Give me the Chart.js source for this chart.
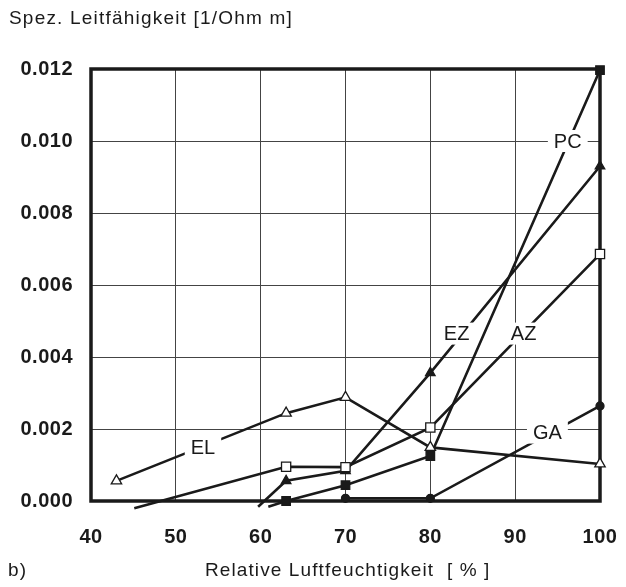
<!DOCTYPE html>
<html>
<head>
<meta charset="utf-8">
<script src="https://cdn.jsdelivr.net/npm/chart.js@4.4.1/dist/chart.umd.min.js"></script>
<style>
  html, body { margin: 0; padding: 0; background: #ffffff; }
  #wrap { width: 626px; height: 587px; }
</style>
</head>
<body>
<div id="wrap"><canvas id="chart" width="626" height="587"></canvas></div>
<script>
// === Spez. Leitfähigkeit vs. relative Luftfeuchtigkeit ===

// x ticks (% r.F.)
const X_TICKS = [40, 50, 60, 70, 80, 90, 100];
const Y_TICKS = [0.0, 0.002, 0.004, 0.006, 0.008, 0.01, 0.012];

// measured series (first point of AZ / EZ / PC = extension below zero, no marker)
const EL_X = [43, 63, 70, 80, 100];
const EL_Y = [0.00056, 0.00244, 0.00288, 0.00149, 0.00103];

const AZ_X = [45.1, 63, 70, 80, 100];
const AZ_Y = [-0.0002, 0.00095, 0.00094, 0.00204, 0.00686];

const EZ_X = [59.7, 63, 70, 80, 100];
const EZ_Y = [-0.00016, 0.00056, 0.00084, 0.00356, 0.0093];

const PC_X = [60.9, 63, 70, 80, 100];
const PC_Y = [-0.00016, 0.0, 0.00044, 0.00125, 0.01197];

const GA_X = [70, 80, 100];
const GA_Y = [0.000075, 0.000075, 0.00264];

// curve labels, placed on the curves (data coords)
const LABEL_TEXT = ["EL", "GA", "EZ", "AZ", "PC"];
const LABEL_X = [53.2, 93.8, 83.1, 91.0, 96.2];
const LABEL_Y = [0.0015, 0.0019, 0.00465, 0.00465, 0.01];

const FONT = "'Liberation Sans', Arial, sans-serif";

function toPoints(xs, ys) {
  return xs.map((x, i) => ({ x: x, y: ys[i] }));
}

// marker radius per point, 0 for the extension point
function radii(xs, r, skipFirst) {
  return xs.map((_, i) => (skipFirst && i === 0 ? 0 : r));
}

function makeSet(label, xs, ys, style, filled, r, skipFirst) {
  return {
    label: label,
    data: toPoints(xs, ys),
    borderColor: "#1a1a1a",
    borderWidth: 2.6,
    pointStyle: style,
    pointRadius: radii(xs, r, skipFirst),
    pointBorderWidth: 1.3,
    pointBorderColor: "#1a1a1a",
    pointBackgroundColor: filled ? "#1a1a1a" : "#ffffff",
    tension: 0,
    clip: false
  };
}

// frame + texts
const framePlugin = {
  id: "frame",
  beforeDraw(chart) {
    // slightly wider letter spacing, like the printed original
    chart.ctx.letterSpacing = "0.5px";
  },
  beforeDatasetsDraw(chart) {
    const a = chart.chartArea;
    const ctx = chart.ctx;
    ctx.save();
    ctx.strokeStyle = "#1a1a1a";
    ctx.lineWidth = 3.5;
    ctx.strokeRect(a.left, a.top, a.right - a.left, a.bottom - a.top);
    ctx.restore();
  },
  afterDatasetsDraw(chart) {
    const ctx = chart.ctx;
    const xs = chart.scales.x;
    const ys = chart.scales.y;
    ctx.save();
    ctx.letterSpacing = "0px";
    ctx.font = "20px " + FONT;
    ctx.textBaseline = "middle";
    ctx.textAlign = "center";
    LABEL_TEXT.forEach((t, i) => {
      const px = xs.getPixelForValue(LABEL_X[i]);
      const py = ys.getPixelForValue(LABEL_Y[i]);
      const w = ctx.measureText(t).width + 12;
      ctx.fillStyle = "#ffffff";
      ctx.fillRect(px - w / 2, py - 11, w, 22);
      ctx.fillStyle = "#1a1a1a";
      ctx.fillText(t, px, py + 1);
    });

    ctx.textAlign = "left";
    ctx.letterSpacing = "1.2px";
    ctx.font = "19px " + FONT;
    ctx.fillText("Spez. Leitfähigkeit [1/Ohm m]", 9, 19);
    ctx.letterSpacing = "1.1px";
    ctx.fillText("b)", 8, 571);
    ctx.fillText("Relative Luftfeuchtigkeit  [ % ]", 205, 571);
    ctx.restore();
  }
};

function initChart() {
  const ctx = document.getElementById("chart").getContext("2d");
  new Chart(ctx, {
    type: "line",
    data: {
      datasets: [
        makeSet("EL", EL_X, EL_Y, "triangle", false, 6, false),
        makeSet("AZ", AZ_X, AZ_Y, "rect", false, 6.5, true),
        makeSet("EZ", EZ_X, EZ_Y, "triangle", true, 5.5, true),
        makeSet("PC", PC_X, PC_Y, "rect", true, 6, true),
        makeSet("GA", GA_X, GA_Y, "circle", true, 4, false)
      ]
    },
    options: {
      responsive: false,
      animation: false,
      layout: { padding: { left: 0, top: 69, right: 26, bottom: 0 } },
      plugins: {
        legend: { display: false },
        tooltip: { enabled: false }
      },
      scales: {
        x: {
          type: "linear",
          min: X_TICKS[0],
          max: X_TICKS[X_TICKS.length - 1],
          afterBuildTicks: (s) => { s.ticks = X_TICKS.map((v) => ({ value: v })); },
          afterFit: (s) => {
            s.height = 86;
            s.paddingLeft = 0;
            s.paddingRight = 0;
          },
          ticks: {
            color: "#1a1a1a",
            padding: 24,
            font: { family: FONT, size: 20, weight: "bold" },
            callback: (v) => String(v)
          },
          grid: { color: "#444444", lineWidth: 1, drawTicks: false },
          border: { display: false }
        },
        y: {
          min: Y_TICKS[0],
          max: Y_TICKS[Y_TICKS.length - 1],
          afterBuildTicks: (s) => { s.ticks = Y_TICKS.map((v) => ({ value: v })); },
          afterFit: (s) => {
            s.width = 91;
            s.paddingTop = 0;
            s.paddingBottom = 0;
          },
          ticks: {
            color: "#1a1a1a",
            padding: 18,
            font: { family: FONT, size: 20, weight: "bold" },
            callback: (v) => v.toFixed(3)
          },
          grid: { color: "#444444", lineWidth: 1, drawTicks: false },
          border: { display: false }
        }
      }
    },
    plugins: [framePlugin]
  });
}

document.addEventListener("DOMContentLoaded", initChart);
</script>
</body>
</html>
